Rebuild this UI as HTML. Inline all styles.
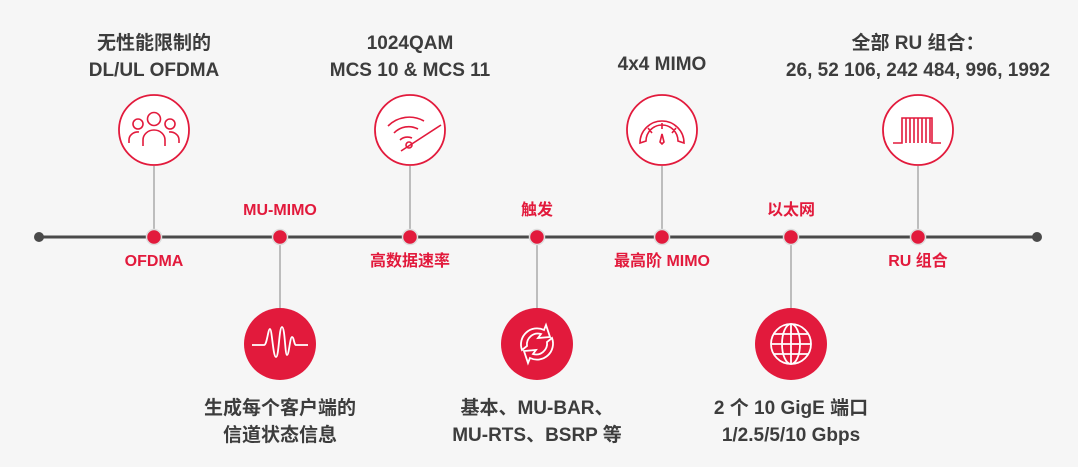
<!DOCTYPE html>
<html><head><meta charset="utf-8"><style>
html,body{margin:0;padding:0;background:#f6f6f6;}
body{width:1078px;height:467px;position:relative;overflow:hidden;font-family:"Liberation Sans","Noto Sans CJK SC",sans-serif;}
.t{position:absolute;text-align:center;color:#3d3d3d;font-size:19px;line-height:27px;font-weight:bold;white-space:nowrap;transform:translateX(-50%);}
.r{position:absolute;text-align:center;color:#e21a3c;font-size:16px;line-height:18px;font-weight:bold;white-space:nowrap;transform:translateX(-50%);}
svg{position:absolute;left:0;top:0;}
</style></head><body>
<svg width="1078" height="467" viewBox="0 0 1078 467">
<g stroke="#aaa" stroke-width="1.5">
<line x1="154" y1="166" x2="154" y2="237"/><line x1="410" y1="166" x2="410" y2="237"/>
<line x1="662" y1="166" x2="662" y2="237"/><line x1="918" y1="166" x2="918" y2="237"/>
<line x1="280" y1="237" x2="280" y2="310"/><line x1="537" y1="237" x2="537" y2="310"/>
<line x1="791" y1="237" x2="791" y2="310"/>
</g>
<line x1="39" y1="237" x2="1037" y2="237" stroke="#4a4a4a" stroke-width="3"/>
<circle cx="39" cy="237" r="5" fill="#4a4a4a"/><circle cx="1037" cy="237" r="5" fill="#4a4a4a"/>
<g fill="#e21a3c" stroke="#ddd" stroke-width="1.5">
<circle cx="154" cy="237" r="7.5"/><circle cx="280" cy="237" r="7.5"/><circle cx="410" cy="237" r="7.5"/>
<circle cx="537" cy="237" r="7.5"/><circle cx="662" cy="237" r="7.5"/><circle cx="791" cy="237" r="7.5"/><circle cx="918" cy="237" r="7.5"/>
</g>
<g fill="#fff" stroke="#e21a3c" stroke-width="1.8">
<circle cx="154" cy="130" r="35"/><circle cx="410" cy="130" r="35"/><circle cx="662" cy="130" r="35"/><circle cx="918" cy="130" r="35"/>
</g>
<g fill="none" stroke="#e21a3c" stroke-width="1.6">
<circle cx="138" cy="124" r="5"/><circle cx="154" cy="119" r="6.5"/><circle cx="170" cy="124" r="5"/>
<path d="M143 146v-6a11 10 0 0 1 22 0v6M129 143v-3a9 8 0 0 1 10-8M179 143v-3a9 8 0 0 0-10-8"/>
<path d="M388 126a30 30 0 0 1 36-5M394 133a20 20 0 0 1 24-4M400 140a11 11 0 0 1 12-2"/>
<circle cx="409" cy="145" r="3"/><path d="M401 151l40-26"/>
<path d="M640 143a22 22 0 1 1 44 0l-6-2a16 16 0 0 0-32 0z M662 123v6M648 128l4 5M676 128l-4 5M662 134l-2 8 2 2 2-2z"/>
<path d="M893 143h9v-25h30v25h9M906 118v25M910 118v25M914 118v25M918 118v25M922 118v25M926 118v25M930 118v25"/>
</g>
<g fill="#e21a3c"><circle cx="280" cy="344" r="36"/><circle cx="537" cy="344" r="36"/><circle cx="791" cy="344" r="36"/></g>
<g fill="none" stroke="#fff" stroke-width="1.8">
<path d="M252 345h12c3 0 4-16 6-16s3 28 6 28 3-30 6-30 3 28 5 28 3-18 5-18 2 8 4 8h12"/>
<path d="M522 350a16 16 0 0 1 22-20l2-5 4 12-12 1 3-4a11 11 0 0 0-14 12z M552 338a16 16 0 0 1-22 20l-2 5-4-12 12-1-3 4a11 11 0 0 0 14-12z"/>
<circle cx="791" cy="344" r="20"/><ellipse cx="791" cy="344" rx="9" ry="20"/><path d="M791 324v40M771 344h40M774 334h34M774 354h34"/>
</g>
</svg>
<div class="t" style="left:154px;top:30px">无性能限制的<br>DL/UL OFDMA</div>
<div class="t" style="left:410px;top:30px">1024QAM<br>MCS 10 &amp; MCS 11</div>
<div class="t" style="left:662px;top:51px">4x4 MIMO</div>
<div class="t" style="left:918px;top:30px">全部 RU 组合：<br>26, 52 106, 242 484, 996, 1992</div>
<div class="r" style="left:280px;top:202px">MU-MIMO</div>
<div class="r" style="left:537px;top:202px">触发</div>
<div class="r" style="left:791px;top:202px">以太网</div>
<div class="r" style="left:154px;top:253px">OFDMA</div>
<div class="r" style="left:410px;top:253px">高数据速率</div>
<div class="r" style="left:662px;top:253px">最高阶 MIMO</div>
<div class="r" style="left:918px;top:253px">RU 组合</div>
<div class="t" style="left:280px;top:395px">生成每个客户端的<br>信道状态信息</div>
<div class="t" style="left:537px;top:395px">基本、MU-BAR、<br>MU-RTS、BSRP 等</div>
<div class="t" style="left:791px;top:395px">2 个 10 GigE 端口<br>1/2.5/5/10 Gbps</div>
</body></html>
